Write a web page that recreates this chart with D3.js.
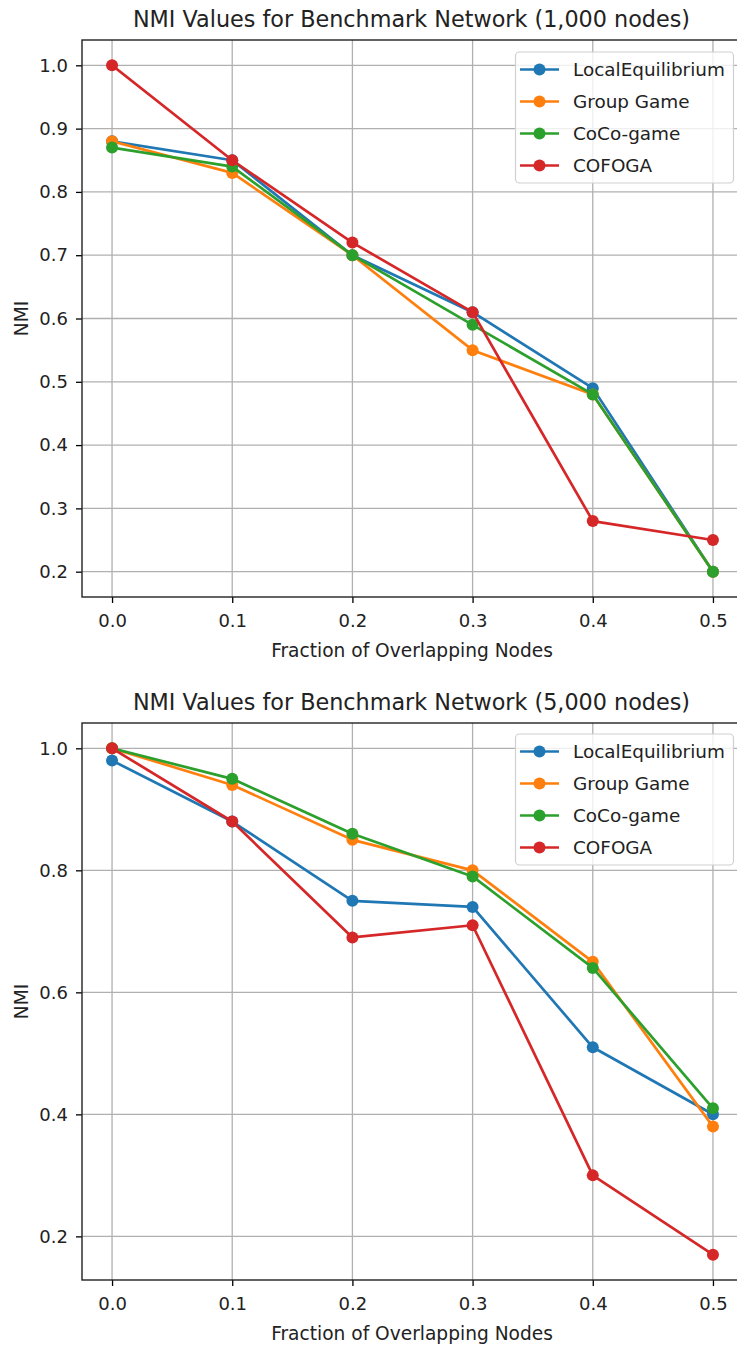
<!DOCTYPE html>
<html>
<head>
<meta charset="utf-8">
<script src="https://cdn.jsdelivr.net/npm/d3@7"></script>
<style>
  html, body { margin: 0; padding: 0; background: #fff; }
  svg { display: block; font-family: "DejaVu Sans", sans-serif; }
</style>
</head>
<body>
<svg id="chart" width="737" height="1347"></svg>
<script>
// ---- Data ----
const fractions = [0.0, 0.1, 0.2, 0.3, 0.4, 0.5];
const seriesNames = ["LocalEquilibrium", "Group Game", "CoCo-game", "COFOGA"];
const seriesColors = ["#1f77b4", "#ff7f0e", "#2ca02c", "#d62728"];

// 1,000 nodes
const local1000 = [0.88, 0.85, 0.70, 0.61, 0.49, 0.20];
const group1000 = [0.88, 0.83, 0.70, 0.55, 0.48, 0.20];
const coco1000  = [0.87, 0.84, 0.70, 0.59, 0.48, 0.20];
const cofoga1000 = [1.00, 0.85, 0.72, 0.61, 0.28, 0.25];

// 5,000 nodes
const local5000 = [0.98, 0.88, 0.75, 0.74, 0.51, 0.40];
const group5000 = [1.00, 0.94, 0.85, 0.80, 0.65, 0.38];
const coco5000  = [1.00, 0.95, 0.86, 0.79, 0.64, 0.41];
const cofoga5000 = [1.00, 0.88, 0.69, 0.71, 0.30, 0.17];

const xTicks = [0.0, 0.1, 0.2, 0.3, 0.4, 0.5];
const yTicks1000 = [0.2, 0.3, 0.4, 0.5, 0.6, 0.7, 0.8, 0.9, 1.0];
const yTicks5000 = [0.2, 0.4, 0.6, 0.8, 1.0];

const titles = ["NMI Values for Benchmark Network (1,000 nodes)", "NMI Values for Benchmark Network (5,000 nodes)"];
const xLabel = "Fraction of Overlapping Nodes";
const yLabel = "NMI";

const svg = d3.select("#chart");

function drawPanel(cfg) {
  const { top, bottom, left, right, series, yTicks, title, legendTop } = cfg;
  const g = svg.append("g");

  // autoscale like matplotlib (5% margins)
  const allVals = series.flat();
  const ymin = d3.min(allVals), ymax = d3.max(allVals);
  const ym = (ymax - ymin) * 0.05;
  const x = d3.scaleLinear().domain([-0.025, 0.525]).range([left, right]);
  const y = d3.scaleLinear().domain([ymin - ym, ymax + ym]).range([bottom, top]);

  const clipId = "clip" + top;
  svg.append("clipPath").attr("id", clipId)
    .append("rect").attr("x", left).attr("y", top).attr("width", right - left).attr("height", bottom - top);

  // grid
  const grid = g.append("g");
  grid.selectAll("line.vx").data(xTicks).enter().append("line")
    .attr("x1", d => x(d)).attr("x2", d => x(d)).attr("y1", top).attr("y2", bottom)
    .attr("stroke", "#b0b0b0").attr("stroke-width", 1.3);
  grid.selectAll("line.hy").data(yTicks).enter().append("line")
    .attr("y1", d => y(d)).attr("y2", d => y(d)).attr("x1", left).attr("x2", right)
    .attr("stroke", "#b0b0b0").attr("stroke-width", 1.3);

  // lines + markers
  const plot = g.append("g").attr("clip-path", `url(#${clipId})`);
  const line = d3.line().x((d, i) => x(fractions[i])).y(d => y(d));
  series.forEach((vals, si) => {
    plot.append("path").datum(vals).attr("d", line)
      .attr("fill", "none").attr("stroke", seriesColors[si]).attr("stroke-width", 2.7)
      .attr("stroke-linejoin", "round").attr("stroke-linecap", "square");
    plot.selectAll(null).data(vals).enter().append("circle")
      .attr("cx", (d, i) => x(fractions[i])).attr("cy", d => y(d)).attr("r", 6)
      .attr("fill", seriesColors[si]);
  });

  // axes
  const xAxis = d3.axisBottom(x).tickValues(xTicks).tickFormat(d3.format(".1f")).tickSize(6).tickPadding(11);
  const yAxis = d3.axisLeft(y).tickValues(yTicks).tickFormat(d3.format(".1f")).tickSize(6).tickPadding(8);
  const xg = g.append("g").attr("transform", `translate(0,${bottom})`).call(xAxis);
  const yg = g.append("g").attr("transform", `translate(${left},0)`).call(yAxis);
  [xg, yg].forEach(a => {
    a.select(".domain").remove();
    a.selectAll(".tick line").attr("stroke", "#000").attr("stroke-width", 1.3);
    a.selectAll(".tick text").attr("fill", "#222").style("font-size", "18px").style("font-family", "DejaVu Sans");
  });

  // spines
  g.append("rect").attr("x", left).attr("y", top).attr("width", right - left).attr("height", bottom - top)
    .attr("fill", "none").attr("stroke", "#222").attr("stroke-width", 1.4);

  // title & labels
  g.append("text").attr("x", (left + right) / 2 - 1).attr("y", top - 13)
    .attr("text-anchor", "middle").style("font-size", "22.3px").attr("fill", "#222").text(title);
  g.append("text").attr("x", 412).attr("y", bottom + 60)
    .attr("text-anchor", "middle").style("font-size", "18.6px").attr("fill", "#222").text(xLabel);
  g.append("text").attr("transform", `translate(28,${(top + bottom) / 2}) rotate(-90)`)
    .attr("text-anchor", "middle").style("font-size", "18.6px").attr("fill", "#222").text(yLabel);

  // legend
  const lg = g.append("g");
  lg.append("rect").attr("x", 515.5).attr("y", legendTop).attr("width", 218).attr("height", 131)
    .attr("rx", 4).attr("fill", "#fff").attr("fill-opacity", 0.8).attr("stroke", "#d0d0d0").attr("stroke-width", 1.2);
  seriesNames.forEach((name, i) => {
    const cy = legendTop + 17.5 + i * 32;
    lg.append("line").attr("x1", 520).attr("x2", 559).attr("y1", cy).attr("y2", cy)
      .attr("stroke", seriesColors[i]).attr("stroke-width", 2.7);
    lg.append("circle").attr("cx", 539.5).attr("cy", cy).attr("r", 6).attr("fill", seriesColors[i]);
    lg.append("text").attr("x", 573).attr("y", cy).attr("dy", "0.35em")
      .style("font-size", "18.4px").attr("fill", "#222").text(name);
  });
}

drawPanel({
  top: 40, bottom: 597, left: 82, right: 743,
  series: [local1000, group1000, coco1000, cofoga1000],
  yTicks: yTicks1000, title: titles[0], legendTop: 52
});
drawPanel({
  top: 723, bottom: 1280, left: 82, right: 743,
  series: [local5000, group5000, coco5000, cofoga5000],
  yTicks: yTicks5000, title: titles[1], legendTop: 734
});
</script>
</body>
</html>
